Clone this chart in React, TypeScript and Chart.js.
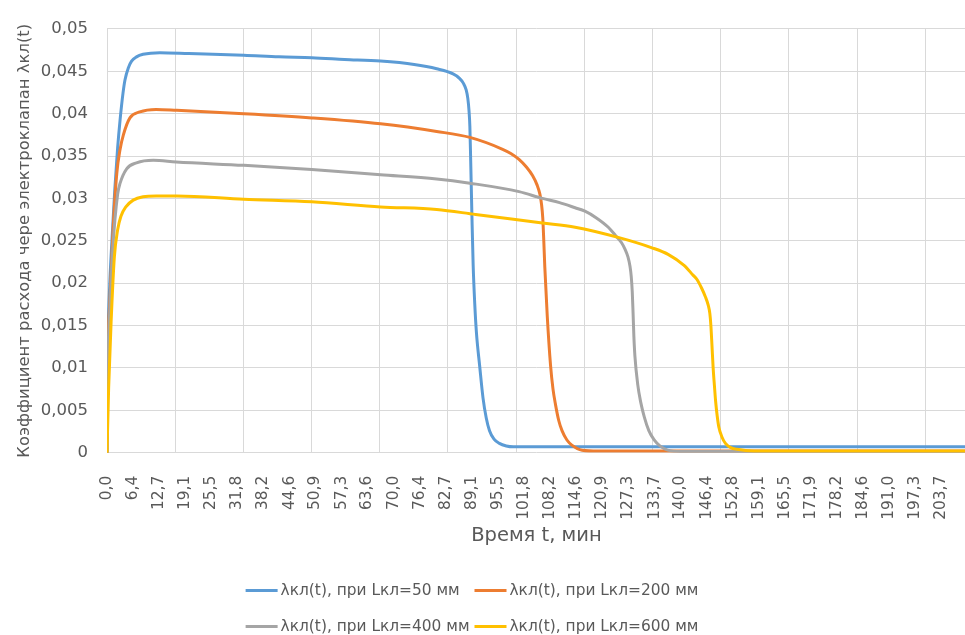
import { useEffect, useRef } from 'react';
import { Chart, registerables } from 'chart.js';

Chart.register(...registerables);

// ---------- data ----------
const X_TICK_LABELS = [
  '0,0', '6,4', '12,7', '19,1', '25,5', '31,8', '38,2', '44,6', '50,9', '57,3', '63,6',
  '70,0', '76,4', '82,7', '89,1', '95,5', '101,8', '108,2', '114,6', '120,9', '127,3',
  '133,7', '140,0', '146,4', '152,8', '159,1', '165,5', '171,9', '178,2', '184,6', '191,0',
  '197,3', '203,7',
];
const Y_TICK_LABELS = ['0', '0,005', '0,01', '0,015', '0,02', '0,025', '0,03', '0,035', '0,04', '0,045', '0,05'];
const X_MAX = 209.7;
const GRID_STEP = 16.65;

const SERIES_LABELS = [
  'λкл(t), при Lкл=50 мм',
  'λкл(t), при Lкл=200 мм',
  'λкл(t), при Lкл=400 мм',
  'λкл(t), при Lкл=600 мм',
];
const SERIES_COLORS = ['#5b9bd5', '#ed7d31', '#a5a5a5', '#ffc000'];

const blueTime = [0, 0.2, 0.6, 1.2, 1.9, 2.6, 3.2, 3.9, 4.4, 5.2, 6.0, 7.2, 8.8, 12.9, 20, 33.4, 42, 50, 58, 66.8, 75, 80.5, 84.5, 86.0, 87.0, 87.7, 88.1, 88.4, 88.6, 88.8, 89.1, 89.4, 89.8, 90.2, 91.0, 91.8, 92.6, 93.4, 94.5, 95.8, 97.5, 99.2, 130, 170, 209.7];
const blueValue = [0, 0.012, 0.019, 0.025, 0.031, 0.036, 0.0393, 0.0424, 0.044, 0.0454, 0.0462, 0.0467, 0.047, 0.0472, 0.0471, 0.0469, 0.0467, 0.0466, 0.0464, 0.0462, 0.0458, 0.0453, 0.0447, 0.0442, 0.0436, 0.0428, 0.0418, 0.0403, 0.0385, 0.0345, 0.028, 0.0222, 0.0175, 0.0142, 0.0102, 0.0065, 0.0041, 0.0026, 0.0016, 0.0011, 0.0008, 0.0007, 0.0007, 0.0007, 0.0007];

const orangeTime = [0, 0.2, 0.7, 1.5, 2.4, 3.2, 4.0, 5.6, 8.0, 12, 17, 33.4, 50, 66.8, 80.5, 88.6, 96.6, 98.6, 100.6, 102.4, 103.9, 105.0, 105.7, 106.1, 106.4, 106.65, 106.9, 107.5, 108.3, 108.9, 109.5, 110.3, 111.1, 112.3, 113.5, 116, 120, 160, 209.7];
const orangeValue = [0, 0.011, 0.018, 0.0265, 0.033, 0.0358, 0.0375, 0.0395, 0.0402, 0.0405, 0.0404, 0.04, 0.0395, 0.0388, 0.0379, 0.0372, 0.0358, 0.0353, 0.0346, 0.0337, 0.0327, 0.0316, 0.0305, 0.0293, 0.0277, 0.025, 0.0219, 0.0161, 0.0103, 0.0075, 0.0057, 0.0038, 0.0026, 0.0015, 0.0009, 0.0003, 0.0002, 0.0002, 0.0002];

const grayTime = [0, 0.2, 0.7, 1.4, 2.6, 3.2, 4.8, 7.2, 11.3, 16.9, 33.4, 50, 66.8, 80.5, 88.6, 100.6, 106.3, 110.5, 114.3, 116.7, 119.5, 122.4, 124.2, 125.6, 126.5, 127.2, 127.7, 128.0, 128.25, 128.45, 128.65, 128.9, 129.6, 130.3, 131.2, 132.3, 133.6, 135, 136.9, 140, 209.7];
const grayValue = [0, 0.01, 0.017, 0.024, 0.0305, 0.0318, 0.0335, 0.0342, 0.0345, 0.0343, 0.0339, 0.0334, 0.0328, 0.0323, 0.0318, 0.0308, 0.03, 0.0295, 0.0289, 0.0285, 0.0277, 0.0266, 0.0256, 0.0248, 0.024, 0.0231, 0.022, 0.0208, 0.019, 0.0165, 0.0137, 0.0114, 0.008, 0.006, 0.0042, 0.0026, 0.0015, 0.0008, 0.0003, 0.00015, 0.00015];

const yellowTime = [0, 0.4, 1.0, 1.8, 2.6, 3.4, 4.6, 6.4, 8.8, 12, 17, 33.4, 50, 66.8, 80.5, 90, 106.3, 114.3, 124.8, 132.9, 137, 140.9, 143, 144.1, 145.2, 146.1, 146.8, 147.2, 147.45, 147.7, 148.0, 148.3, 148.6, 149.0, 149.4, 150.2, 151, 152.3, 153.8, 158, 209.7];
const yellowValue = [0, 0.0076, 0.0154, 0.0231, 0.0263, 0.0279, 0.029, 0.0298, 0.0302, 0.0303, 0.0303, 0.0299, 0.0296, 0.029, 0.0287, 0.0281, 0.0271, 0.0266, 0.0254, 0.0242, 0.0234, 0.0221, 0.021, 0.0204, 0.0194, 0.0184, 0.0174, 0.0164, 0.015, 0.0128, 0.01, 0.008, 0.0061, 0.0043, 0.003, 0.0018, 0.0011, 0.0006, 0.0004, 0.0002, 0.0002];

// ---------- helpers ----------
const parseNum = (s: string) => Number(s.replace(',', '.'));
const toPoints = (t: number[], v: number[]) => t.map((x, i) => ({ x, y: v[i] }));

const TEXT_COLOR = '#595959';
const GRID_COLOR = '#d9d9d9';
const FONT = "'DejaVu Sans'";

const columnLegend = {
  id: 'columnLegend',
  afterDraw(chart: any) {
    const { ctx } = chart;
    const ds = chart.data.datasets;
    ctx.save();
    ctx.font = `15.4px ${FONT}`;
    const LINE = 32;
    const GAP_TEXT = 3;
    const COL_GAP = 5;
    const widths = ds.map((d: any) => LINE + GAP_TEXT + ctx.measureText(d.label).width);
    const colW = [Math.max(widths[0], widths[2]), Math.max(widths[1], widths[3])];
    const total = colW[0] + COL_GAP + colW[1];
    const left = 472 - total / 2;
    const rowsY = [590.5, 626.5];
    ds.forEach((d: any, i: number) => {
      const col = i % 2;
      const row = Math.floor(i / 2);
      const x = left + (col ? colW[0] + COL_GAP : 0);
      const y = rowsY[row];
      ctx.fillStyle = d.borderColor;
      ctx.fillRect(x, y - 1.5, LINE, 3);
      ctx.fillStyle = TEXT_COLOR;
      ctx.textBaseline = 'middle';
      ctx.textAlign = 'left';
      ctx.fillText(d.label, x + LINE + GAP_TEXT, y);
    });
    ctx.restore();
  },
};

export default function App() {
  const canvasRef = useRef<HTMLCanvasElement | null>(null);

  useEffect(() => {
    const canvas = canvasRef.current;
    if (!canvas) return;
    const series = [
      toPoints(blueTime, blueValue),
      toPoints(orangeTime, orangeValue),
      toPoints(grayTime, grayValue),
      toPoints(yellowTime, yellowValue),
    ];
    const chart = new Chart(canvas, {
      type: 'line',
      data: {
        datasets: series.map((data, i) => ({
          label: SERIES_LABELS[i],
          data,
          borderColor: SERIES_COLORS[i],
          backgroundColor: SERIES_COLORS[i],
          borderWidth: 3,
          pointRadius: 0,
          fill: false,
          cubicInterpolationMode: 'monotone' as const,
          borderCapStyle: 'round' as const,
          borderJoinStyle: 'round' as const,
          order: 3 - i,
        })),
      },
      options: {
        responsive: false,
        animation: false,
        layout: { padding: { top: 20.7, right: 0, bottom: 80, left: 0 } },
        plugins: { legend: { display: false }, tooltip: { enabled: false } },
        scales: {
          x: {
            type: 'linear',
            position: 'bottom',
            min: 0,
            max: X_MAX,
            weight: 1,
            afterBuildTicks: (s: any) => {
              s.ticks = X_TICK_LABELS.map((l) => ({ value: parseNum(l) }));
            },
            ticks: {
              autoSkip: false,
              minRotation: 90,
              maxRotation: 90,
              padding: 15,
              color: TEXT_COLOR,
              font: { family: FONT, size: 15.4 },
              callback: (_v: any, i: number) => X_TICK_LABELS[i],
            },
            grid: { display: false },
            border: { display: false },
            title: {
              display: true,
              text: 'Время t, мин',
              color: TEXT_COLOR,
              font: { family: FONT, size: 19.5 },
              padding: { top: 0, bottom: 7.3 },
            },
            afterFit: (s: any) => {
              s.height = 102.3;
            },
          },
          xg: {
            type: 'linear',
            axis: 'x',
            position: 'bottom',
            min: 0,
            max: X_MAX,
            weight: 0,
            afterBuildTicks: (s: any) => {
              const t = [];
              for (let k = 0; k * GRID_STEP <= X_MAX; k++) t.push({ value: k * GRID_STEP });
              s.ticks = t;
            },
            ticks: { display: false },
            grid: { color: GRID_COLOR, lineWidth: 1, drawTicks: false },
            border: { display: false },
            afterFit: (s: any) => {
              s.height = 0;
            },
          },
          y: {
            type: 'linear',
            min: 0,
            max: 0.05,
            afterBuildTicks: (s: any) => {
              s.ticks = Y_TICK_LABELS.map((l) => ({ value: parseNum(l) }));
            },
            ticks: {
              padding: 19,
              color: TEXT_COLOR,
              font: { family: FONT, size: 16.5 },
              callback: (_v: any, i: number) => Y_TICK_LABELS[i],
            },
            grid: { color: GRID_COLOR, lineWidth: 1, drawTicks: false },
            border: { display: false },
            title: {
              display: true,
              text: 'Коэффициент расхода чере электроклапан λкл(t)',
              color: TEXT_COLOR,
              font: { family: FONT, size: 16.4 },
              padding: { top: 15, bottom: 0 },
            },
            afterFit: (s: any) => {
              s.width = 107;
            },
          },
        },
      } as any,
      plugins: [columnLegend],
    });
    return () => chart.destroy();
  }, []);

  return (
    <div
      style={{
        position: 'fixed',
        left: 0,
        top: 0,
        width: 965,
        height: 635,
        overflow: 'hidden',
        background: '#ffffff',
      }}
    >
      <canvas ref={canvasRef} width={975} height={635} style={{ display: 'block' }} />
    </div>
  );
}
